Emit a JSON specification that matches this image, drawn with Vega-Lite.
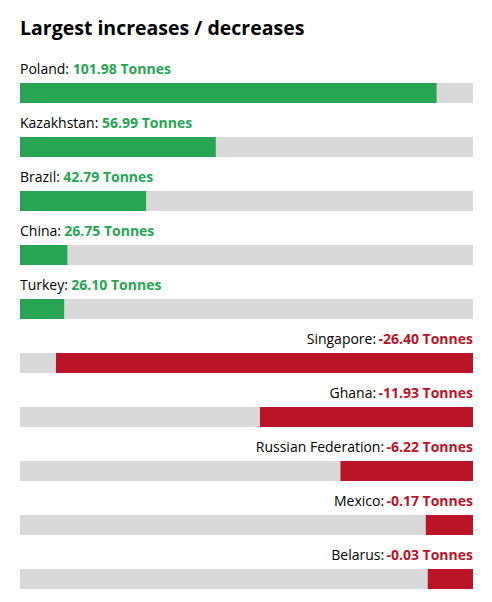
{
  "$schema": "https://vega.github.io/schema/vega-lite/v6.json",
  "description": "Largest increases / decreases by country, in tonnes",
  "width": 453,
  "height": 540,
  "autosize": "none",
  "padding": {"left": 20, "top": 54, "right": 19, "bottom": 8},
  "title": {
    "text": "Largest increases / decreases",
    "anchor": "start",
    "frame": "group",
    "font": "Open Sans",
    "fontSize": 19.5,
    "fontWeight": "bold",
    "color": "#000000",
    "baseline": "alphabetic",
    "offset": 0
  },
  "config": {"view": {"stroke": null}, "font": "Open Sans"},
  "data": {
    "values": [
      {"country": "Poland", "value": 101.98},
      {"country": "Kazakhstan", "value": 56.99},
      {"country": "Brazil", "value": 42.79},
      {"country": "China", "value": 26.75},
      {"country": "Turkey", "value": 26.10},
      {"country": "Singapore", "value": -26.40},
      {"country": "Ghana", "value": -11.93},
      {"country": "Russian Federation", "value": -6.22},
      {"country": "Mexico", "value": -0.17},
      {"country": "Belarus", "value": -0.03}
    ]
  },
  "transform": [
    {"calculate": "(datum.value < 0 ? '-' : '') + format(abs(datum.value), '.2f') + ' Tonnes'", "as": "valueLabel"},
    {"calculate": "datum.country + ':'", "as": "nameLabel"},
    {"calculate": "(530*length(replace(datum.country + ': ', regexp('[^ijl:. ]','g'), '')) + 710*length(replace(datum.country + ': ', regexp('[^ft]','g'), '')) + 836*length(replace(datum.country + ': ', regexp('[^r]','g'), '')) + 995*length(replace(datum.country + ': ', regexp('[^cszvy]','g'), '')) + 1120*length(replace(datum.country + ': ', regexp('[^akxegTFS]','g'), '')) + 1255*length(replace(datum.country + ': ', regexp('[^bdhnopquPKBCR]','g'), '')) + 1150*length(replace(datum.country + ': ', regexp('[ijl:. ftrcszvyakxegTFSbdhnopquPKBCR]','g'), ''))) * 14 / 2048", "as": "nameW"},
    {"calculate": "(8953 + 1171 * (length(datum.valueLabel) - 9) + 532) * 14 / 2048", "as": "valueW"}
  ],
  "encoding": {
    "y": {
      "field": "country",
      "type": "nominal",
      "sort": null,
      "axis": null,
      "scale": {"paddingInner": 0, "paddingOuter": 0}
    }
  },
  "layer": [
    {
      "transform": [{"filter": "datum.value > 0"}],
      "layer": [
        {
          "mark": {"type": "bar", "height": 20, "yOffset": 12, "color": "#d9d9d9"},
          "encoding": {
            "x": {"datum": 17.1, "type": "quantitative", "scale": {"domain": [17.1, 109.4]}, "axis": null},
            "x2": {"datum": 109.4}
          }
        },
        {
          "mark": {"type": "bar", "height": 20, "yOffset": 12, "color": "#27a552"},
          "encoding": {
            "x": {"field": "value", "type": "quantitative", "scale": {"domain": [17.1, 109.4]}, "axis": null},
            "x2": {"datum": 17.1}
          }
        },
        {
          "mark": {"type": "text", "align": "left", "baseline": "alphabetic", "yOffset": -7, "fontSize": 14, "color": "#000000"},
          "encoding": {
            "x": {"datum": 17.1, "type": "quantitative", "scale": {"domain": [17.1, 109.4]}, "axis": null},
            "text": {"field": "nameLabel"}
          }
        },
        {
          "mark": {"type": "text", "align": "left", "baseline": "alphabetic", "yOffset": -7, "fontSize": 14, "fontWeight": "bold", "color": "#27a552", "dx": {"expr": "datum.nameW"}},
          "encoding": {
            "x": {"datum": 17.1, "type": "quantitative", "scale": {"domain": [17.1, 109.4]}, "axis": null},
            "text": {"field": "valueLabel"}
          }
        }
      ]
    },
    {
      "transform": [{"filter": "datum.value < 0"}],
      "layer": [
        {
          "mark": {"type": "bar", "height": 20, "yOffset": 12, "color": "#d9d9d9"},
          "encoding": {
            "x": {"datum": -28.95, "type": "quantitative", "scale": {"domain": [-28.95, 3.18]}, "axis": null},
            "x2": {"datum": 3.18}
          }
        },
        {
          "mark": {"type": "bar", "height": 20, "yOffset": 12, "color": "#b91428"},
          "encoding": {
            "x": {"field": "value", "type": "quantitative", "scale": {"domain": [-28.95, 3.18]}, "axis": null},
            "x2": {"datum": 3.18}
          }
        },
        {
          "mark": {"type": "text", "align": "right", "baseline": "alphabetic", "yOffset": -7, "fontSize": 14, "fontWeight": "bold", "color": "#b91428"},
          "encoding": {
            "x": {"datum": 3.18, "type": "quantitative", "scale": {"domain": [-28.95, 3.18]}, "axis": null},
            "text": {"field": "valueLabel"}
          }
        },
        {
          "mark": {"type": "text", "align": "right", "baseline": "alphabetic", "yOffset": -7, "fontSize": 14, "color": "#000000", "dx": {"expr": "-datum.valueW"}},
          "encoding": {
            "x": {"datum": 3.18, "type": "quantitative", "scale": {"domain": [-28.95, 3.18]}, "axis": null},
            "text": {"field": "nameLabel"}
          }
        }
      ]
    }
  ],
  "resolve": {"scale": {"x": "independent"}}
}
